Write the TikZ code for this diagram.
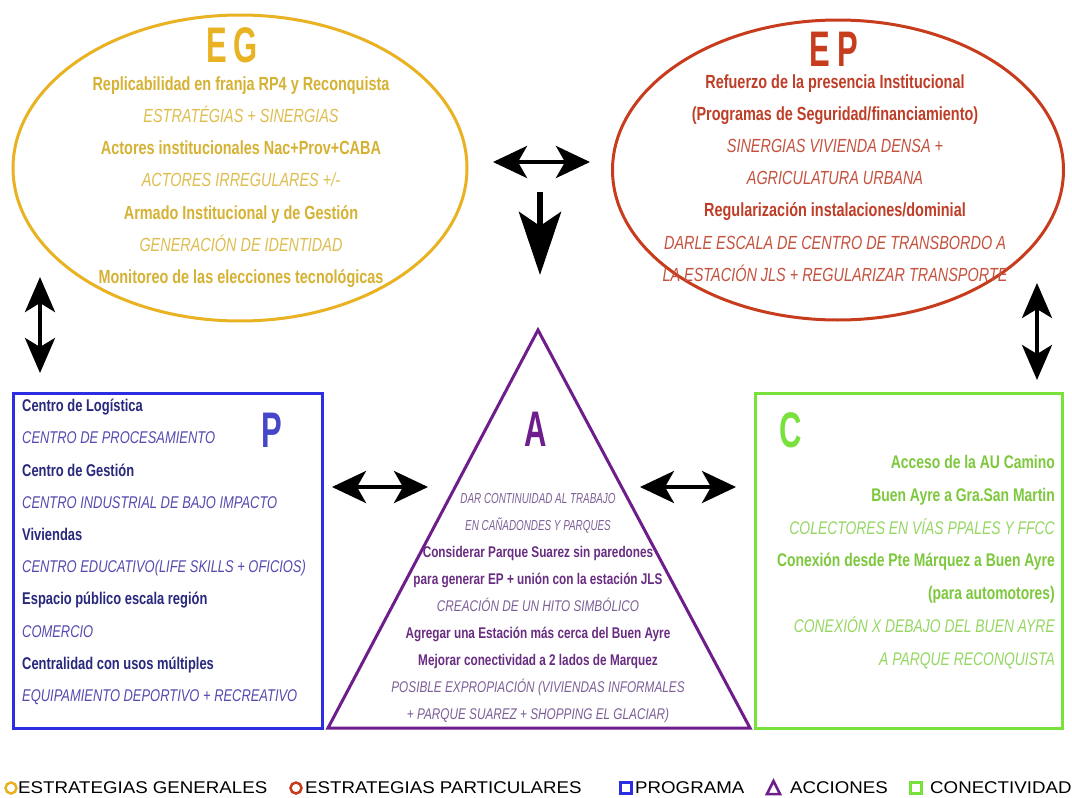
\documentclass[tikz,border=0pt]{standalone}
\usepackage{fontspec}
\setmainfont{Liberation Sans}[FakeStretch=0.76]
\newfontfamily\titlefont{Liberation Sans}[FakeStretch=0.62]
\newfontfamily\narrowfont{Liberation Sans}[FakeStretch=0.68]
\newfontfamily\legendfont{Liberation Sans}[FakeStretch=1.1]
\usetikzlibrary{shapes.geometric,arrows.meta,positioning}

\definecolor{egline}{RGB}{232,178,35}
\definecolor{egtext}{RGB}{214,178,52}
\definecolor{egital}{RGB}{222,190,80}
\definecolor{epline}{RGB}{200,60,30}
\definecolor{eptext}{RGB}{190,62,40}
\definecolor{epital}{RGB}{196,82,62}
\definecolor{pline}{RGB}{45,45,225}
\definecolor{ptitle}{RGB}{70,70,200}
\definecolor{ptext}{RGB}{40,40,125}
\definecolor{pital}{RGB}{85,75,175}
\definecolor{aline}{RGB}{110,30,140}
\definecolor{atext}{RGB}{105,45,130}
\definecolor{aital}{RGB}{125,95,150}
\definecolor{cline}{RGB}{120,225,60}
\definecolor{ctext}{RGB}{125,200,60}
\definecolor{cital}{RGB}{150,215,100}

\newcommand\rowb[1]{{\bfseries #1}}
\newcommand\rowi[2]{{\itshape\color{#1}#2}}

\begin{document}
\begin{tikzpicture}[x=1pt,y=-1pt,
	frame/.style={draw,line width=3pt,inner sep=0pt},
	title/.style={font=\titlefont\bfseries\fontsize{50}{50}\selectfont},
	body/.style={inner sep=0pt,font=\fontsize{#1}{32.2}\selectfont},
	dbl/.style={{Stealth[length=34pt,width=32pt,inset=9pt]}-{Stealth[length=34pt,width=32pt,inset=9pt]},line width=4pt},
	legend/.style={anchor=west,inner sep=0pt,font=\legendfont\fontsize{17}{17}\selectfont}]
	\useasboundingbox[fill=white] (0,0) rectangle (1072,798);

	% EG
	\node[frame,ellipse,draw=egline,minimum width=454pt,minimum height=306pt] (EG) at (240,168) {};
	\node[title,text=egline] (EGt) at (232,45) {E\kern7pt G};
	\node[body=19,align=center,text=egtext] (EGb) at (241,182) {
		\rowb{Replicabilidad en franja RP4 y Reconquista}\\
		\rowi{egital}{ESTRATÉGIAS + SINERGIAS}\\
		\rowb{Actores institucionales Nac+Prov+CABA}\\
		\rowi{egital}{ACTORES IRREGULARES +/-}\\
		\rowb{Armado Institucional y de Gestión}\\
		\rowi{egital}{GENERACIÓN DE IDENTIDAD}\\
		\rowb{Monitoreo de las elecciones tecnológicas}};

	% EP
	\node[frame,ellipse,draw=epline,minimum width=451pt,minimum height=300pt] (EP) at (838,170) {};
	\node[title,text=epline] (EPt) at (834,49) {E\kern7pt P};
	\node[body=19,align=center,text=eptext] (EPb) at (835,178) {
		\rowb{Refuerzo de la presencia Institucional}\\
		\rowb{(Programas de Seguridad/financiamiento)}\\
		\rowi{epital}{SINERGIAS VIVIENDA DENSA +}\\
		\rowi{epital}{AGRICULATURA URBANA}\\
		\rowb{Regularización instalaciones/dominial}\\
		\rowi{epital}{DARLE ESCALA DE CENTRO DE TRANSBORDO A}\\
		\rowi{epital}{LA ESTACIÓN JLS + REGULARIZAR TRANSPORTE}};

	% P
	\draw[pline,line width=3pt] (13,393) rectangle (322,728);
	\node[title,text=ptitle] (Pt) at (272,430) {P};
	\node[body=17,align=left,anchor=west,text=ptext] (Pb) at (22,552) {
		\rowb{Centro de Logística}\\
		\rowi{pital}{CENTRO DE PROCESAMIENTO}\\
		\rowb{Centro de Gestión}\\
		\rowi{pital}{CENTRO INDUSTRIAL DE BAJO IMPACTO}\\
		\rowb{Viviendas}\\
		\rowi{pital}{CENTRO EDUCATIVO(LIFE SKILLS + OFICIOS)}\\
		\rowb{Espacio público escala región}\\
		\rowi{pital}{COMERCIO}\\
		\rowb{Centralidad con usos múltiples}\\
		\rowi{pital}{EQUIPAMIENTO DEPORTIVO + RECREATIVO}};

	% A
	\draw[aline,line width=3pt,line join=miter] (538,330) -- (750,728) -- (328,728) -- cycle;
	\node[title,text=aline] (At) at (536,429) {A};
	\node[inner sep=0pt,align=center,text=atext,font=\fontsize{15.5}{27.1}\selectfont] (Ab) at (538,608) {
		{\narrowfont\fontsize{14.5}{27.1}\selectfont\itshape\color{aital}DAR CONTINUIDAD AL TRABAJO}\\
		{\narrowfont\fontsize{14.5}{27.1}\selectfont\itshape\color{aital}EN CAÑADONDES Y PARQUES}\\
		\rowb{Considerar Parque Suarez sin paredones}\\
		\rowb{para generar EP + unión con la estación JLS}\\
		\rowi{aital}{CREACIÓN DE UN HITO SIMBÓLICO}\\
		\rowb{Agregar una Estación más cerca del Buen Ayre}\\
		\rowb{Mejorar conectividad a 2 lados de Marquez}\\
		\rowi{aital}{POSIBLE EXPROPIACIÓN (VIVIENDAS INFORMALES}\\
		\rowi{aital}{+ PARQUE SUAREZ + SHOPPING EL GLACIAR)}};

	% C
	\draw[cline,line width=3pt] (755,393) rectangle (1062,728);
	\node[title,text=cline] (Ct) at (791,430) {C};
	\node[inner sep=0pt,align=right,anchor=east,text=ctext,font=\fontsize{18.3}{32.8}\selectfont] (Cb) at (1055,562) {
		\rowb{Acceso de la AU Camino}\\
		\rowb{Buen Ayre a Gra.San Martin}\\
		\rowi{cital}{COLECTORES EN VÍAS PPALES Y FFCC}\\
		\rowb{Conexión desde Pte Márquez a Buen Ayre}\\
		\rowb{(para automotores)}\\
		\rowi{cital}{CONEXIÓN X DEBAJO DEL BUEN AYRE}\\
		\rowi{cital}{A PARQUE RECONQUISTA}};

	% arrows
	\coordinate (egep1) at (493,162);
	\coordinate (egep2) at (590,162);
	\coordinate (down1) at (540,192);
	\coordinate (down2) at (540,275);
	\coordinate (egp1) at (40,277);
	\coordinate (egp2) at (40,373);
	\coordinate (epc1) at (1037,283);
	\coordinate (epc2) at (1037,380);
	\coordinate (pa1) at (332,487);
	\coordinate (pa2) at (428,487);
	\coordinate (ac1) at (640,487);
	\coordinate (ac2) at (736,487);
	\draw[dbl] (egep1) -- (egep2);
	\draw[-{Stealth[length=63pt,width=42pt,inset=14pt]},line width=6pt] (down1) -- (down2);
	\draw[dbl,{Stealth[length=35pt,width=30pt,inset=9pt]}-{Stealth[length=35pt,width=30pt,inset=9pt]}] (egp1) -- (egp2);
	\draw[dbl,{Stealth[length=35pt,width=30pt,inset=9pt]}-{Stealth[length=35pt,width=30pt,inset=9pt]}] (epc1) -- (epc2);
	\draw[dbl] (pa1) -- (pa2);
	\draw[dbl] (ac1) -- (ac2);

	% legend
	\draw[egline,line width=2.5pt] (11,788) circle (5.5pt);
	\node[legend] (l1) at (18,788) {ESTRATEGIAS GENERALES};
	\draw[epline,line width=2.5pt] (296,788) circle (5.5pt);
	\node[legend] (l2) at (305,788) {ESTRATEGIAS PARTICULARES};
	\draw[pline,line width=2.5pt] (620.5,782.5) rectangle (631.5,793.5);
	\node[legend] (l3) at (635,788) {PROGRAMA};
	\draw[aline,line width=2.5pt,line join=miter] (767,794) -- (773.5,781) -- (780,794) -- cycle;
	\node[legend] (l4) at (790,788) {ACCIONES};
	\draw[cline,line width=2.5pt] (910.5,782.5) rectangle (921.5,793.5);
	\node[legend] (l5) at (930,788) {CONECTIVIDAD};
\end{tikzpicture}
\end{document}
